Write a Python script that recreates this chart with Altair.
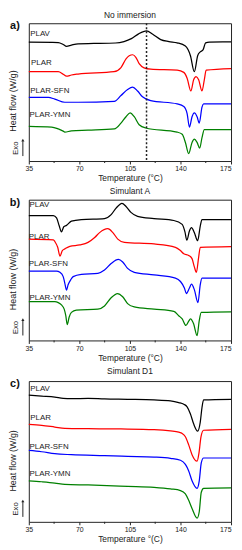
import altair as alt
import pandas as pd

FONT = "Liberation Sans"
SERIES = ["PLAV", "PLAR", "PLAR-SFN", "PLAR-YMN"]
COLORS = ["#000000", "#ff0000", "#0000ff", "#008000"]
X_TICKS = [35, 70, 105, 140, 175]
X_MINOR = [52.5, 87.5, 122.5, 157.5]

# ---------- a) No immersion ----------
a_plav_T = [35, 55.4, 58.8, 61.1, 64.5, 69.1, 80, 95, 100.9, 106, 111, 116.5, 120.8, 126.3, 132, 137.7, 143.4, 146.9, 149.6, 151.9, 153.7, 155.6, 157.4, 160, 175]
a_plav_v = [123.3, 123, 121, 119, 120.3, 121.7, 122, 122.5, 124, 127, 132, 135, 131.5, 126, 124, 122.7, 119.3, 109.3, 92.7, 109.3, 113.3, 115.3, 122.7, 123.5, 123.7]
a_plar_T = [35, 55.4, 58.8, 61.1, 64.5, 69.1, 94, 98.8, 102.3, 104.5, 106.9, 109.1, 111.4, 114.8, 119.4, 137.7, 142.3, 144.6, 147.2, 149.1, 150.8, 152.6, 154.9, 156.5, 157.8, 175]
a_plar_v = [92.7, 92.7, 90, 88, 89.3, 90.3, 92.7, 97, 106, 109.3, 110.3, 107.7, 101, 96.7, 95.3, 94.3, 92, 86, 72.7, 84.3, 87.7, 84.3, 72.7, 84.3, 94.3, 96]
a_sfn_T = [35, 48.5, 53, 59.9, 69.1, 94.2, 98.8, 103.4, 106.9, 110.3, 113.7, 119.4, 137.7, 142.3, 144.6, 146.2, 148, 149.6, 151.5, 153, 154.9, 156, 175]
a_sfn_v = [66, 66, 64.3, 61, 61, 62, 68, 74.3, 76.7, 72.7, 66.7, 62.7, 59.3, 56.7, 49.3, 35.3, 46, 50, 46, 39.3, 56, 59.3, 59.3]
a_ymn_T = [35, 50.8, 55.4, 58.8, 59.9, 64.5, 76, 94.2, 98.8, 102.3, 105.2, 108, 111.4, 116, 137.7, 141.2, 143.4, 145.7, 148, 149.6, 151.5, 153.3, 154.9, 156.5, 175]
a_ymn_v = [36, 35.3, 33.3, 31, 30, 31.3, 32, 33.3, 39.3, 46, 50, 46, 37.7, 34.3, 30, 27.7, 19.3, 7.7, 19.3, 22.7, 19.3, 13.3, 24.3, 32.7, 32.7]
a_label_T = [36, 36.5, 36, 35.5]
a_label_v = [132, 102, 73, 48]
a_dash_T = [116.5]

# ---------- b) Simulant A ----------
b_plav_T = [35, 52, 54.2, 56.1, 57.6, 59.2, 61.1, 64.5, 71.4, 87.4, 92, 95.4, 99.5, 102.3, 105.7, 110.3, 121.7, 135.4, 141.2, 143.1, 144.4, 146.2, 147.6, 149.6, 151.9, 153.7, 154.9, 175]
b_plav_v = [127.7, 127.7, 125.3, 117, 111, 116.3, 117.7, 122, 123.7, 124.7, 128.7, 135.3, 140.3, 137, 131, 127, 124.7, 122.7, 118.7, 111, 102.5, 112, 115.3, 110.3, 102, 117, 123.7, 123.7]
b_plar_T = [35, 52, 53.1, 55, 56.6, 58.2, 60, 63.4, 70.3, 76, 80.6, 84, 89.7, 93.2, 96.6, 101.2, 121.7, 136.5, 139.9, 142.3, 145.7, 148, 149.6, 151, 152.6, 153.7, 175]
b_plar_v = [103.7, 103, 101, 95.3, 86.3, 92, 93.7, 96.3, 97.7, 100.3, 105.3, 110.3, 114.3, 110.3, 103.7, 100.3, 98.7, 95.3, 92, 88.7, 87, 83.7, 75.3, 69.7, 85.3, 95.3, 96]
b_sfn_T = [35, 54.2, 56.5, 58.8, 59.9, 61.1, 62.2, 64, 65.7, 71.4, 82.8, 87.4, 92, 97, 100, 103.4, 108, 121.7, 136.5, 140, 142.7, 144.1, 146.2, 147.6, 149.6, 152.1, 153.7, 154.9, 175]
b_sfn_v = [71, 71, 69.7, 65.3, 58.7, 51.5, 57, 62, 65.3, 67.7, 68.7, 72, 78.7, 83, 80.3, 73.7, 69.7, 67, 63.7, 60.3, 53.7, 48, 53.7, 57.5, 52, 38.7, 57, 63.7, 63.7]
b_ymn_T = [35, 53, 55.4, 57.6, 59.5, 60.6, 61.6, 62.9, 64.5, 67.9, 82.8, 87.4, 92, 96.4, 100, 103.4, 108, 121.7, 135.4, 138.8, 141.2, 143.8, 145.7, 146.9, 149.1, 151.5, 153, 154.4, 175]
b_ymn_v = [39.7, 39.7, 38.7, 36.3, 32, 25.3, 16.3, 23.7, 28.7, 31, 32, 35.3, 43.7, 48, 44.7, 37.7, 34.3, 32, 29.7, 25.3, 22, 15.3, 19.7, 22, 17, 5, 20.3, 28.7, 29.3]
b_label_T = [35.5, 35, 35, 35.5]
b_label_v = [138.7, 106.3, 77.7, 43.7]

# ---------- c) Simulant D1 ----------
c_plav_T = [35, 43.9, 53, 58.8, 64.5, 76, 87.4, 103.4, 121.7, 133.1, 138.8, 142.3, 144.6, 146.9, 149.1, 151.9, 153.7, 154.9, 156, 175]
c_plav_v = [129.7, 128.7, 127.7, 126.3, 126, 126.3, 125.7, 125.3, 124.7, 123.7, 122, 120.3, 117.7, 110.3, 100.3, 92.7, 102, 117, 124.7, 125.3]
c_plar_T = [35, 43.9, 53, 59.9, 76, 98.8, 121.7, 133.1, 138.8, 141.2, 143.4, 145.7, 148, 151.5, 152.8, 154.2, 156, 175]
c_plar_v = [99.7, 98.7, 97, 95.7, 95.3, 95, 94.3, 93, 91.7, 90.3, 87, 78.7, 68.7, 62, 70.3, 87, 93.7, 94.7]
c_sfn_T = [35, 43.9, 53, 64.5, 87.4, 103.4, 121.7, 133.1, 140, 143.4, 145.7, 148, 151.5, 153, 154.4, 156, 175]
c_sfn_v = [73, 71.7, 69.7, 68.7, 67.7, 67, 66.3, 65, 63, 58.7, 52, 42, 34.3, 42, 60.3, 65.3, 65.3]
c_ymn_T = [35, 43.9, 53, 59.9, 76, 103.4, 121.7, 133.1, 140, 143.4, 145.7, 148, 151.5, 153, 154.4, 156, 175]
c_ymn_v = [42, 41, 39.7, 38.3, 37.7, 36.3, 35.3, 33.7, 32, 28.7, 22, 13.7, 3.7, 10.3, 30.3, 34.3, 34.7]
c_label_T = [36, 36, 35.5, 35.5]
c_label_v = [136.3, 106, 77, 48.7]


def panel(curves, label_T, label_v, title, letter, H, ymax, xtitle,
          title_offset=1, dash_T=None):
    W = 204
    df = pd.concat(
        [pd.DataFrame({"T": T, "v": v, "series": s}) for s, (T, v) in zip(SERIES, curves)],
        ignore_index=True)
    x = alt.X("T:Q", scale=alt.Scale(domain=[35, 175], nice=False, zero=False),
              axis=alt.Axis(values=X_TICKS, title=xtitle, grid=False, domain=False,
                            tickSize=3, tickColor="#222", tickWidth=1,
                            labelFontSize=7, labelPadding=1, titleFontSize=8.5,
                            titlePadding=2, titleFontWeight="normal",
                            labelAlign={"condition": {"test": "datum.value >= 175", "value": "right"},
                                        "value": "center"}))
    y = alt.Y("v:Q", scale=alt.Scale(domain=[0, ymax], nice=False, zero=False),
              axis=alt.Axis(title="Heat flow (W/g)", labels=False, ticks=False, domain=False,
                            grid=False, titleFontSize=9, titleFontWeight="normal",
                            titleX=-11, titleY=round(H * 0.56)))
    color = alt.Color("series:N", scale=alt.Scale(domain=SERIES, range=COLORS), legend=None)

    lines = alt.Chart(df).mark_line(interpolate="monotone", strokeWidth=1.25).encode(
        x=x, y=y, color=color, detail="series:N")

    lab_df = pd.DataFrame({"T": label_T, "v": label_v, "name": SERIES})
    labels = alt.Chart(lab_df).mark_text(align="left", baseline="middle", fontSize=8,
                                         font=FONT, color="#222").encode(
        x=x, y=y, text="name:N")

    minor = alt.Chart(pd.DataFrame({"T": X_MINOR})).mark_rule(color="#222", strokeWidth=1).encode(
        x=x, y=alt.value(H), y2=alt.value(H + 2))

    one = pd.DataFrame({"t": [letter], "e": ["Exo"]})
    let = alt.Chart(one).mark_text(fontSize=11, fontWeight="bold", font=FONT, color="#111",
                                   align="center", baseline="middle").encode(
        x=alt.value(-14), y=alt.value(3), text="t:N")
    exo = alt.Chart(one).mark_text(fontSize=8, font=FONT, color="#222", angle=270,
                                   align="center", baseline="middle").encode(
        x=alt.value(-13), y=alt.value(H - 13), text="e:N")
    arrow = alt.Chart(one).mark_rule(color="#222", strokeWidth=1).encode(
        x=alt.value(-6), y=alt.value(H - 5), y2=alt.value(H - 20))
    head = alt.Chart(one).mark_point(shape="triangle-up", filled=True, size=10,
                                     color="#222", opacity=1).encode(
        x=alt.value(-6), y=alt.value(H - 21))

    layers = [lines, labels, minor, let, exo, arrow, head]
    if dash_T is not None:
        dash = alt.Chart(pd.DataFrame({"T": dash_T})).mark_rule(
            color="#222", strokeWidth=1.5, strokeDash=[2, 2]).encode(x=x)
        layers.insert(1, dash)

    return alt.layer(*layers).properties(
        width=W, height=H,
        title=alt.TitleParams(title, fontSize=8.5, fontWeight="normal", font=FONT,
                              color="#222", offset=title_offset))


pa = panel([(a_plav_T, a_plav_v), (a_plar_T, a_plar_v), (a_sfn_T, a_sfn_v), (a_ymn_T, a_ymn_v)],
           a_label_T, a_label_v, "No immersion", "a)", 139, 143, "Temperature (°C)",
           title_offset=1, dash_T=a_dash_T)
pb = panel([(b_plav_T, b_plav_v), (b_plar_T, b_plar_v), (b_sfn_T, b_sfn_v), (b_ymn_T, b_ymn_v)],
           b_label_T, b_label_v, "Simulant A", "b)", 142, 144, "Temperature (°C)",
           title_offset=1)
pc = panel([(c_plav_T, c_plav_v), (c_plar_T, c_plar_v), (c_sfn_T, c_sfn_v), (c_ymn_T, c_ymn_v)],
           c_label_T, c_label_v, "Simulant D1", "c)", 142, 144, "Temperature °(C)",
           title_offset=3)

chart = alt.vconcat(pa, pb, pc, spacing=4).properties(
    padding={"top": 0, "left": 0, "right": 0, "bottom": 0}
).configure(font=FONT).configure_view(
    stroke="#222", strokeWidth=1
).configure_axis(
    labelColor="#222", titleColor="#222", labelFont=FONT, titleFont=FONT
)

chart.save("out.html", embed_options={"renderer": "svg", "actions": False})
